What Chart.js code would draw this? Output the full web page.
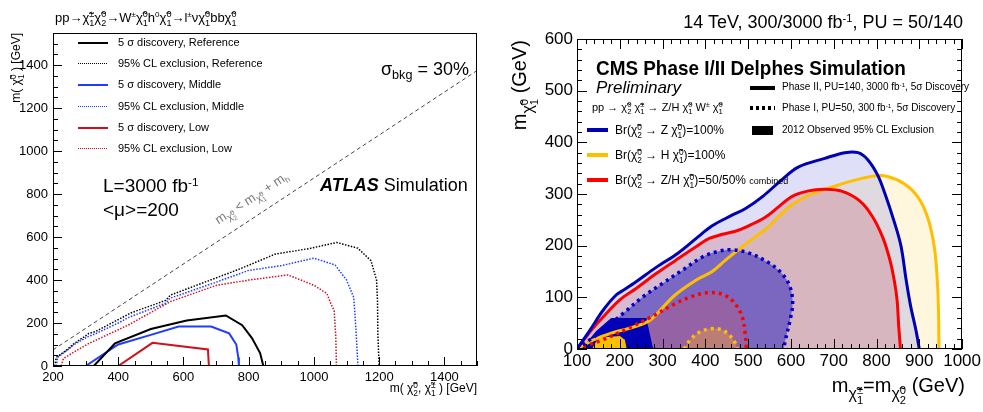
<!DOCTYPE html>
<html>
<head>
<meta charset="utf-8">
<script src="https://cdn.jsdelivr.net/npm/chart.js@4.4.1/dist/chart.umd.min.js"></script>
<style>
  body { margin: 0; background: #fff; }
  #wrap { position: relative; width: 983px; height: 412px; overflow: hidden;
          font-family: 'Liberation Sans', Arial, sans-serif; color: #000; }
  canvas { position: absolute; top: 0; }
  .t { position: absolute; white-space: nowrap; line-height: 1; }
  .ss { display: inline-block; vertical-align: -0.45em; line-height: 0.95; font-size: 0.7em; text-align: left; }
  .ss i { display: block; font-style: normal; }
  sup { font-size: 0.62em; vertical-align: 0.55em; line-height: 0; }
  sub { font-size: 0.62em; vertical-align: -0.3em; line-height: 0; }
  .ln { position: absolute; }
</style>
</head>
<body>
<div id="wrap">
  <canvas id="atlas" width="490" height="412" style="left:0"></canvas>
  <canvas id="cms" width="493" height="412" style="left:490px"></canvas>
</div>
<script>
// ---------- left panel: ATLAS, contours in GeV [m(chi2,chi1pm), m(chi1)] ----------
const atlasX = { min: 200, max: 1500, step: 200 };
const atlasY = { min: 0, max: 1550, step: 200 };
const kinLimit = [[200, 75], [1500, 1375]];   // m_chi2 = m_chi1 + m_h
const refDiscovery = [[325,0],[390,105],[500,172],[610,212],[730,235],[780,190],[810,130],[835,60],[845,0]];
const refExclusion = [[205,0],[210,40],[240,72],[265,105],[300,140],[310,152],[330,160],[420,232],[440,248],[545,305],[560,330],[665,390],[770,450],[880,520],[990,548],[1070,575],[1135,548],[1175,490],[1192,400],[1195,300],[1196,150],[1200,0]];
const midDiscovery = [[300,0],[400,100],[500,145],[585,184],[685,184],[740,152],[762,100],[768,40],[770,0]];
const midExclusion = [[210,0],[214,40],[245,75],[265,100],[305,135],[330,150],[400,200],[430,225],[545,292],[558,315],[700,390],[800,445],[900,467],[1000,502],[1065,470],[1100,400],[1122,320],[1128,190],[1135,0]];
const lowDiscovery = [[400,0],[505,108],[675,77],[678,0]];
const lowExclusion = [[225,0],[232,35],[270,70],[310,105],[430,190],[560,300],[700,375],[800,400],[920,424],[1000,376],[1040,337],[1052,290],[1062,258],[1067,140],[1069,0]];

// ---------- right panel: CMS, contours in GeV [m(chi1pm)=m(chi2), m(chi1)] ----------
const cmsX = { min: 100, max: 1000, step: 100 };
const cmsY = { min: 0, max: 600, step: 100 };
const zDiscovery3000 = [[100,0],[130,36],[161,75],[192,105],[211,115],[238,130],[285,158],[335,185],[380,215],[415,238],[460,258],[494,272],[535,296],[575,325],[617,352],[679,369],[726,380],[757,380],[780,366],[803,336],[820,300],[840,250],[857,200],[869,135],[880,82],[892,37],[900,0]];
const hDiscovery3000 = [[100,0],[140,18],[185,32],[231,42],[270,55],[300,80],[330,105],[378,133],[416,150],[447,172],[486,198],[517,217],[548,237],[571,256],[602,279],[648,300],[695,313],[741,325],[795,335],[826,334],[865,320],[896,295],[919,256],[935,198],[942,134],[945,70],[946,0]];
const zhDiscovery3000 = [[100,0],[130,33],[161,62],[200,95],[238,117],[285,146],[331,172],[378,198],[409,214],[440,222],[470,228],[500,238],[540,255],[571,275],[602,295],[641,306],[680,309],[720,305],[760,287],[790,257],[815,215],[832,170],[842,130],[848,95],[852,43],[856,0]];
const zDiscovery300 = [[100,0],[150,30],[208,69],[254,101],[300,127],[347,153],[393,178],[430,189],[463,192],[501,186],[548,167],[579,146],[598,120],[604,88],[598,56],[587,17],[583,0]];
const zhDiscovery300 = [[100,0],[160,18],[220,40],[280,65],[330,88],[370,102],[405,109],[440,106],[465,92],[485,65],[493,30],[496,0]];
const hDiscovery300 = [[350,0],[365,18],[385,32],[410,39],[435,38],[455,28],[468,14],[475,0]];
const zObserved2012 = [[110,0],[145,35],[180,60],[262,60],[278,0]];
const hObserved2012 = [[135,0],[150,22],[200,25],[212,18],[216,0]];

const pts = a => a.map(p => ({ x: p[0], y: p[1] }));

// ticks drawn inside the frame, like ROOT does
const frameTicks = {
  id: 'frameTicks',
  afterDatasetsDraw(chart, args, o) {
    const { ctx, chartArea: a, scales: { x, y } } = chart;
    ctx.save();
    ctx.strokeStyle = '#000';
    ctx.lineWidth = 1;
    ctx.beginPath();
    const isMajor = (v, m) => Math.abs(v / m - Math.round(v / m)) < 1e-6;
    for (let v = x.min; v <= x.max + 1e-6; v += o.xMinor) {
      const px = Math.round(x.getPixelForValue(v)) + 0.5;
      const len = isMajor(v, o.xMajor) ? o.major : o.minor;
      ctx.moveTo(px, a.bottom); ctx.lineTo(px, a.bottom - len);
      if (o.all) { ctx.moveTo(px, a.top); ctx.lineTo(px, a.top + len); }
    }
    for (let v = y.min; v <= y.max + 1e-6; v += o.yMinor) {
      const py = Math.round(y.getPixelForValue(v)) + 0.5;
      const len = isMajor(v, o.yMajor) ? o.major : o.minor;
      ctx.moveTo(a.left, py); ctx.lineTo(a.left + len, py);
      if (o.all) { ctx.moveTo(a.right, py); ctx.lineTo(a.right - len, py); }
    }
    ctx.stroke();
    ctx.strokeRect(Math.round(a.left) + 0.5, Math.round(a.top) + 0.5, Math.round(a.width) - 1, Math.round(a.height) - 1);
    ctx.restore();
  }
};

Chart.defaults.font.family = "'Liberation Sans', Arial, sans-serif";
Chart.defaults.color = '#000';

function axis(r, size, horiz, fontSize, pad) {
  return {
    type: 'linear', min: r.min, max: r.max,
    grid: { display: false, drawTicks: false, tickLength: 0 },
    border: { display: false },
    ticks: { stepSize: r.step, includeBounds: false, autoSkip: false, maxRotation: 0,
             padding: pad, font: { size: fontSize }, callback: v => String(v) },
    afterFit: s => { if (horiz) s.height = size; else s.width = size; }
  };
}

function line(data, color, width, dash, extra) {
  return Object.assign({ data: pts(data), showLine: true, borderColor: color, borderWidth: width,
    borderDash: dash || [], pointRadius: 0, fill: false, tension: 0 }, extra || {});
}

// ---------- ATLAS chart ----------
new Chart(document.getElementById('atlas'), {
  type: 'scatter',
  data: { datasets: [
    line(kinLimit, '#444', 1, [4, 3]),
    line(refDiscovery, '#000', 2),
    line(refExclusion, '#000', 1.5, [1.5, 1.5]),
    line(midDiscovery, '#1f3dff', 2),
    line(midExclusion, '#1f3dff', 1.5, [1.5, 1.5]),
    line(lowDiscovery, '#d0101e', 2),
    line(lowExclusion, '#d0101e', 1.5, [1.5, 1.5])
  ] },
  options: {
    responsive: false, animation: false, events: [],
    layout: { padding: { top: 33, right: 13, left: 0, bottom: 0 } },
    scales: { x: axis(atlasX, 46, true, 13, 4), y: axis(atlasY, 53, false, 13, 5) },
    plugins: { legend: { display: false }, tooltip: { enabled: false },
      frameTicks: { xMinor: 50, xMajor: 200, yMinor: 50, yMajor: 200, major: 9, minor: 5, all: false } }
  },
  plugins: [frameTicks]
});

// ---------- CMS chart ----------
function area(data, color, order, tension) {
  return { data: pts(data), showLine: true, borderWidth: 0, pointRadius: 0,
    backgroundColor: color, fill: 'shape', tension: tension, order: order };
}
const curveOpts = o => ({ tension: 0.35, order: o, borderCapStyle: 'butt' });
new Chart(document.getElementById('cms'), {
  type: 'scatter',
  data: { datasets: [
    area(hDiscovery3000, 'rgba(255,222,120,0.25)', 20, 0.35),
    area(zDiscovery3000, 'rgba(150,150,230,0.30)', 19, 0.35),
    area(zhDiscovery3000, 'rgba(200,100,120,0.30)', 18, 0.35),
    area(zDiscovery300, 'rgba(60,50,190,0.60)', 17, 0.35),
    area(zhDiscovery300, 'rgba(200,90,120,0.35)', 16, 0.35),
    area(hDiscovery300, 'rgba(230,160,60,0.45)', 15, 0.35),
    area(zObserved2012, '#0000b4', 14, 0),
    area(hObserved2012, '#f8c000', 13, 0),
    line(hDiscovery3000, '#ffbf00', 3, [], curveOpts(3)),
    line(zhDiscovery3000, '#ff0000', 3, [], curveOpts(2)),
    line(zDiscovery3000, '#0000b4', 3, [], curveOpts(1)),
    line(zDiscovery300, '#0000c8', 3.5, [3, 4], curveOpts(1)),
    line(zhDiscovery300, '#ff0000', 3.5, [3, 4], curveOpts(1)),
    line(hDiscovery300, '#ffbf00', 3.5, [3, 4], curveOpts(1))
  ] },
  options: {
    responsive: false, animation: false, events: [],
    layout: { padding: { top: 39, right: 18, left: 0, bottom: 0 } },
    scales: { x: axis(cmsX, 63, true, 17, 2), y: axis(cmsY, 87, false, 17, 4) },
    plugins: { legend: { display: false }, tooltip: { enabled: false },
      frameTicks: { xMinor: 20, xMajor: 100, yMinor: 20, yMajor: 100, major: 10, minor: 5, all: true } }
  },
  plugins: [frameTicks]
});

// ---------- text and legend overlays ----------
const chi = (sub, sup) => 'χ&#771;<span class="ss"><i>' + sup + '</i><i>' + sub + '</i></span>';
const wrap = document.getElementById('wrap');
function text(html, css) {
  const d = document.createElement('div');
  d.className = 't';
  d.innerHTML = html;
  d.style.cssText += css;
  wrap.appendChild(d);
  return d;
}
function sample(css) {
  const d = document.createElement('div');
  d.className = 'ln';
  d.style.cssText = css;
  wrap.appendChild(d);
}
const dotted = (c, w, h) => 'background:repeating-linear-gradient(90deg,' + c + ' 0 ' + w + 'px,transparent ' + w + 'px ' + (2 * w) + 'px);height:' + h + 'px;';

// ATLAS texts
text('pp→' + chi('1', '±') + chi('2', '0') + '→W<sup>±</sup>' + chi('1', '0') + 'h<sup>0</sup>' + chi('1', '0') +
     '→l<sup>±</sup>ν' + chi('1', '0') + 'bb' + chi('1', '0'), 'left:55px;top:10px;font-size:13px;');
const atlasLeg = [
  ['5 σ discovery, Reference', '#000', false], ['95% CL exclusion, Reference', '#000', true],
  ['5 σ discovery, Middle', '#1f3dff', false], ['95% CL exclusion, Middle', '#1f3dff', true],
  ['5 σ discovery, Low', '#d0101e', false], ['95% CL exclusion, Low', '#d0101e', true]
];
atlasLeg.forEach((r, i) => {
  const cy = 43 + i * 21.2;
  sample('left:78px;width:30px;top:' + (cy - 1) + 'px;' + (r[2] ? dotted(r[1], 1, 1) : 'height:2px;background:' + r[1] + ';'));
  text(r[0], 'left:118px;top:' + (cy - 6) + 'px;font-size:11px;');
});
text('σ<sub style="font-size:0.7em">bkg</sub> = 30%', 'left:381px;top:60px;font-size:18px;');
text('L=3000 fb<sup>-1</sup>', 'left:103px;top:176px;font-size:19px;');
text('&lt;μ&gt;=200', 'left:103px;top:200px;font-size:19px;');
text('<b><i>ATLAS</i></b> Simulation', 'left:320px;top:176px;font-size:18px;');
text('m<span style="font-size:0.75em;vertical-align:-0.3em">' + chi('2', '0') + '</span> &lt; m<span style="font-size:0.75em;vertical-align:-0.3em">' +
     chi('1', '0') + '</span> + m<sub>h</sub>',
     'left:253px;top:200px;font-size:13px;color:#7a7a7a;transform:translate(-50%,-50%) rotate(-33deg);');
text('m( ' + chi('1', '0') + ' ) [GeV]', 'left:9px;top:233px;width:200px;text-align:right;font-size:12px;transform-origin:0 0;transform:rotate(-90deg);');
text('m( ' + chi('2', '0') + ',  ' + chi('1', '±') + ' ) [GeV]', 'right:506px;top:381px;font-size:12px;');

// CMS texts
text('14 TeV, 300/3000 fb<sup>-1</sup>, PU = 50/140', 'right:20px;top:13px;font-size:18px;');
text('<b>CMS Phase I/II Delphes Simulation</b>', 'left:596px;top:57px;font-size:21px;transform-origin:0 0;transform:scaleX(0.9);');
text('<i>Preliminary</i>', 'left:596px;top:79px;font-size:17px;');
text('pp → ' + chi('2', '0') + ' ' + chi('1', '±') + ' → Z/H ' + chi('1', '0') + ' W<sup>±</sup> ' + chi('1', '0'), 'left:592px;top:101px;font-size:11px;');
const cmsLeg = [
  ['Br(' + chi('2', '0') + ' → Z ' + chi('1', '0') + ')=100%', '#0000b4'],
  ['Br(' + chi('2', '0') + ' → H ' + chi('1', '0') + ')=100%', '#ffbf00'],
  ['Br(' + chi('2', '0') + ' → Z/H ' + chi('1', '0') + ')=50/50% <span style="font-size:0.75em">combined</span>', '#ff0000']
];
cmsLeg.forEach((r, i) => {
  const cy = 130 + i * 25;
  sample('left:587px;width:21px;height:4px;top:' + (cy - 2) + 'px;background:' + r[1] + ';');
  text(r[0], 'left:615px;top:' + (cy - 7) + 'px;font-size:12px;');
});
sample('left:750px;width:25px;height:4px;top:86px;background:#000;');
text('Phase II, PU=140, 3000 fb<sup>-1</sup>, 5σ Discovery', 'left:782px;top:82px;font-size:10px;');
sample('left:750px;width:25px;top:106px;' + dotted('#000', 3, 4));
text('Phase I, PU=50, 300 fb<sup>-1</sup>, 5σ Discovery', 'left:782px;top:103px;font-size:10px;');
sample('left:752px;width:21px;height:9px;top:126px;background:#000;');
text('2012 Observed 95% CL Exclusion', 'left:782px;top:125px;font-size:10px;');
text('m<span style="font-size:0.8em;vertical-align:-0.45em">' + chi('1', '0') + '</span>  (GeV)',
     'left:509px;top:240px;width:200px;text-align:right;font-size:20px;transform-origin:0 0;transform:rotate(-90deg);');
text('m<span style="font-size:0.8em;vertical-align:-0.45em">' + chi('1', '±') + '</span>=m<span style="font-size:0.8em;vertical-align:-0.45em">' +
     chi('2', '0') + '</span>  (GeV)', 'right:18px;top:375px;font-size:20px;');
</script>
</body>
</html>
